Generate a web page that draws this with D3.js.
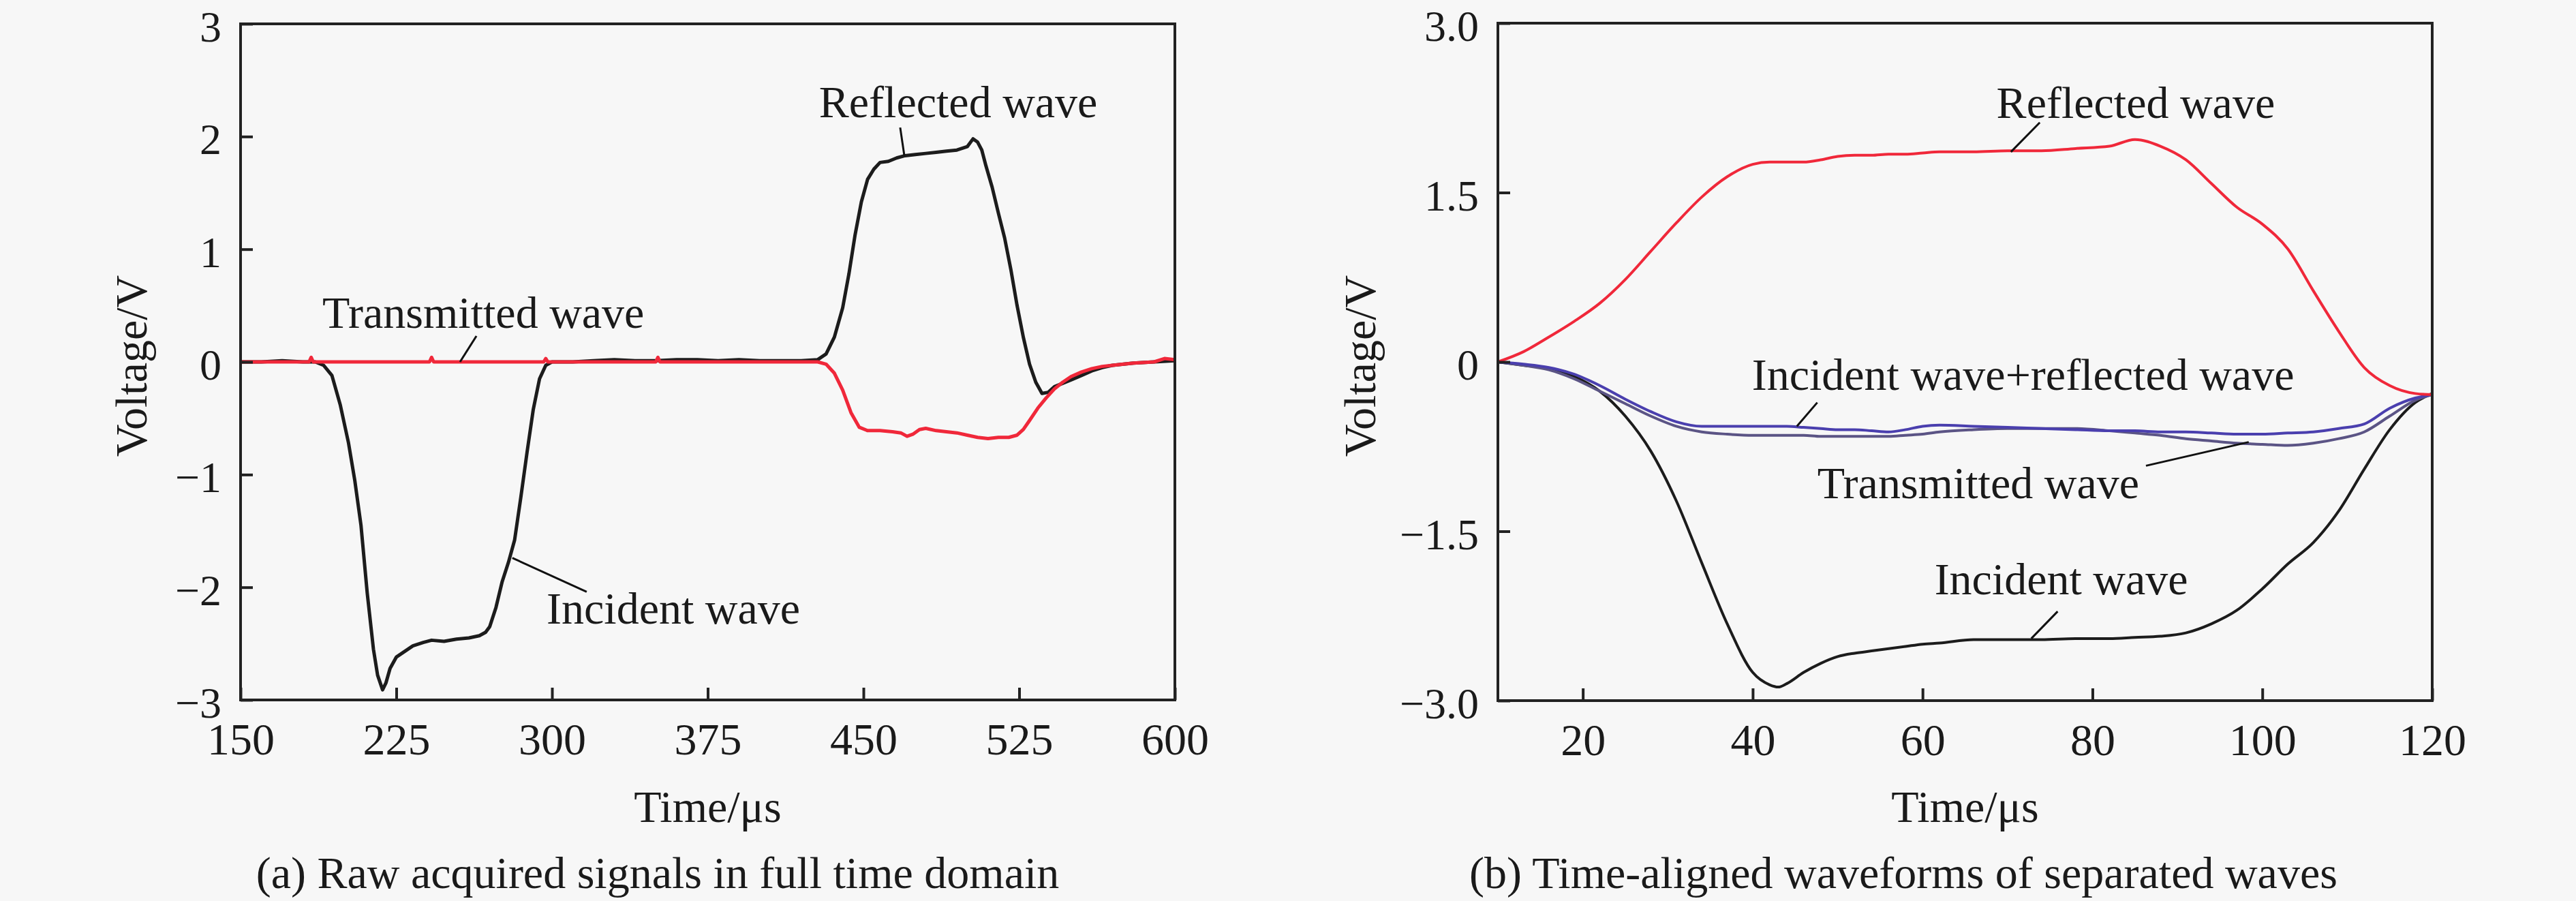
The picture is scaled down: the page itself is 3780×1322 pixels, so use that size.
<!DOCTYPE html>
<html>
<head>
<meta charset="utf-8">
<script src="https://cdn.jsdelivr.net/npm/d3@7"></script>
<style>
  body { margin: 0; background: #f7f7f7; }
  svg text { font-family: "Liberation Serif", "Times New Roman", serif; fill: #1a1a1a; }
</style>
</head>
<body>
<svg id="chart" width="3780" height="1322"></svg>
<script>
// ---- panel (a): raw signals, full time domain ----
var rawTimeBar1 = [150,160,170,180,186,190,194,198,202,205,208,211,214,216,218.4,220,222,225,229,233,238,242,248,254,260,265,268,270,273,276,279,282,285,288,291,294,297,300,310,320,330,340,350,360,370,380,390,400,410,420,428,432,436,440,443,446,449,452,455,458,462,466,470,475,480,485,490,495,500,502.8,505,507,509,512,515,518,521,524,527,530,533,536,539,542,546,550,555,560,565,570,580,590,600];
var rawVoltBar1 = [0,0,0.01,0,0,-0.03,-0.12,-0.38,-0.72,-1.05,-1.45,-2.05,-2.55,-2.78,-2.91,-2.85,-2.72,-2.62,-2.57,-2.52,-2.49,-2.47,-2.48,-2.46,-2.45,-2.43,-2.40,-2.35,-2.18,-1.95,-1.78,-1.58,-1.20,-0.80,-0.42,-0.15,-0.03,0,0,0.01,0.02,0.01,0.01,0.02,0.02,0.01,0.02,0.01,0.01,0.01,0.02,0.07,0.22,0.48,0.78,1.13,1.42,1.62,1.71,1.77,1.78,1.81,1.83,1.84,1.85,1.86,1.87,1.88,1.91,1.98,1.95,1.88,1.74,1.55,1.32,1.10,0.82,0.50,0.22,-0.02,-0.18,-0.28,-0.27,-0.22,-0.19,-0.16,-0.12,-0.08,-0.05,-0.03,-0.01,0,0.01];

var rawTimeBar2 = [150,170,183,184,185,200,220,241,242,243,260,280,296,297,298,320,350,351,352,380,400,415,428,432,436,440,444,448,452,458,464,468,471,474,477,480,485,490,495,500,505,510,515,520,524,527,530,534,538,542,546,550,555,560,565,570,580,590,595,600];
var rawVoltBar2 = [0,0,0,0.04,0,0,0,0,0.04,0,0,0,0,0.03,0,0,0,0.04,0,0,0,0,0,-0.02,-0.10,-0.25,-0.45,-0.58,-0.61,-0.61,-0.62,-0.63,-0.66,-0.64,-0.60,-0.59,-0.61,-0.62,-0.63,-0.65,-0.67,-0.68,-0.67,-0.67,-0.65,-0.60,-0.52,-0.41,-0.32,-0.24,-0.18,-0.13,-0.09,-0.06,-0.04,-0.03,-0.01,0,0.03,0.02];

var xTicksA = [150,225,300,375,450,525,600];
var yTicksA = [-3,-2,-1,0,1,2,3];

// ---- panel (b): time-aligned separated waves ----
var alignedTime = [10,13,16,19,22,25,28,31,34,37,40,42,43,44,46,48,50,52,54,56,58,60,62,66,70,74,78,82,85,88,91,94,97,100,103,106,109,112,115,118,120];
var reflectedWave = [0,0.09,0.22,0.36,0.52,0.73,0.98,1.23,1.46,1.64,1.75,1.77,1.77,1.77,1.77,1.79,1.82,1.83,1.83,1.84,1.84,1.85,1.86,1.86,1.87,1.87,1.89,1.91,1.97,1.91,1.79,1.58,1.37,1.22,1.00,0.63,0.27,-0.05,-0.21,-0.28,-0.29];
var incidentWave = [0,-0.03,-0.06,-0.13,-0.26,-0.48,-0.79,-1.23,-1.78,-2.32,-2.75,-2.86,-2.88,-2.85,-2.75,-2.67,-2.61,-2.58,-2.56,-2.54,-2.52,-2.50,-2.49,-2.46,-2.46,-2.46,-2.45,-2.45,-2.44,-2.43,-2.40,-2.32,-2.20,-2.01,-1.79,-1.60,-1.32,-0.95,-0.60,-0.36,-0.28];
var transmittedWave = [0,-0.03,-0.07,-0.15,-0.26,-0.37,-0.48,-0.57,-0.62,-0.64,-0.65,-0.65,-0.65,-0.65,-0.65,-0.66,-0.66,-0.66,-0.66,-0.66,-0.65,-0.64,-0.62,-0.60,-0.59,-0.59,-0.59,-0.61,-0.63,-0.65,-0.68,-0.70,-0.72,-0.73,-0.74,-0.72,-0.68,-0.62,-0.48,-0.34,-0.29];
var incPlusRefWave = [0,-0.02,-0.05,-0.11,-0.21,-0.33,-0.44,-0.53,-0.57,-0.57,-0.57,-0.57,-0.57,-0.57,-0.58,-0.59,-0.60,-0.60,-0.61,-0.62,-0.60,-0.57,-0.56,-0.57,-0.58,-0.59,-0.60,-0.61,-0.61,-0.62,-0.62,-0.63,-0.64,-0.64,-0.63,-0.62,-0.59,-0.55,-0.41,-0.32,-0.29];

var xTicksB = [20,40,60,80,100,120];
var yTicksB = [-3,-1.5,0,1.5,3];

// annotation labels: text anchor and leader line in data units
var labelsA = [
  { text: 'Reflected wave',   tx: 428.6, ty: 2.17,  from: [467.7, 2.08],  to: [469.7, 1.83] },
  { text: 'Transmitted wave', tx: 189.4, ty: 0.30,  from: [263.6, 0.23],  to: [255.7, 0.0] },
  { text: 'Incident wave',    tx: 297.4, ty: -2.32, from: [316.7, -2.04], to: [280.9, -1.74] }
];
var labelsB = [
  { text: 'Reflected wave',               tx: 68.7, ty: 2.16,  from: [73.8, 2.12],  to: [70.4, 1.86] },
  { text: 'Incident wave+reflected wave', tx: 39.9, ty: -0.25, from: [47.6, -0.36], to: [45.2, -0.57] },
  { text: 'Transmitted wave',             tx: 47.6, ty: -1.21, from: [86.3, -0.92], to: [98.4, -0.71] },
  { text: 'Incident wave',                tx: 61.4, ty: -2.06, from: [75.9, -2.21], to: [72.8, -2.45] }
];

function zip(t, v) { return t.map(function(d, i) { return [d, v[i]]; }); }

var svg = d3.select('#chart');
svg.append('rect').attr('width', 3780).attr('height', 1322).attr('fill', '#f7f7f7');

function drawPanel(p) {
  var x = d3.scaleLinear().domain(p.xDomain).range([p.left, p.right]);
  var y = d3.scaleLinear().domain([-3, 3]).range([p.bottom, p.top]);
  var g = svg.append('g');

  // lines
  var line = d3.line()
    .x(function(d) { return x(d[0]); })
    .y(function(d) { return y(d[1]); })
    .curve(p.curve);
  p.series.forEach(function(s) {
    g.append('path')
      .datum(s.points)
      .attr('d', line)
      .attr('fill', 'none')
      .attr('stroke', s.color)
      .attr('stroke-width', s.width)
      .attr('stroke-linejoin', 'round');
  });

  // frame
  g.append('rect')
    .attr('x', p.left).attr('y', p.top)
    .attr('width', p.right - p.left).attr('height', p.bottom - p.top)
    .attr('fill', 'none').attr('stroke', '#222').attr('stroke-width', 4);

  // axes, ticks pointing inward
  var gx = g.append('g').attr('transform', 'translate(0,' + p.bottom + ')')
    .call(d3.axisBottom(x).tickValues(p.xTicks).tickSizeInner(-18).tickSizeOuter(0));
  gx.select('.domain').remove();
  gx.selectAll('.tick line').attr('stroke', '#222').attr('stroke-width', 4);
  gx.selectAll('.tick text').attr('y', 80).attr('dy', 0).attr('font-size', 66);

  var gy = g.append('g').attr('transform', 'translate(' + p.left + ',0)')
    .call(d3.axisLeft(y).tickValues(p.yTicks).tickFormat(p.yFormat)
      .tickSizeInner(-18).tickSizeOuter(0).tickPadding(28));
  gy.select('.domain').remove();
  gy.selectAll('.tick line').attr('stroke', '#222').attr('stroke-width', 4);
  gy.selectAll('.tick text').attr('font-size', 64).attr('dy', '0.4em');

  // titles
  g.append('text')
    .attr('x', (p.left + p.right) / 2).attr('y', 1206)
    .attr('text-anchor', 'middle').attr('font-size', 66)
    .text('Time/\u03bcs');
  g.append('text')
    .attr('transform', 'translate(' + p.yTitleX + ',' + ((p.top + p.bottom) / 2 + 6) + ') rotate(-90)')
    .attr('text-anchor', 'middle').attr('font-size', 66)
    .text('Voltage/V');
  g.append('text')
    .attr('x', p.captionX).attr('y', 1303)
    .attr('text-anchor', 'middle').attr('font-size', 66)
    .text(p.caption);

  // annotations
  p.labels.forEach(function(a) {
    g.append('line')
      .attr('x1', x(a.from[0])).attr('y1', y(a.from[1]))
      .attr('x2', x(a.to[0])).attr('y2', y(a.to[1]))
      .attr('stroke', '#111').attr('stroke-width', 3);
    g.append('text')
      .attr('x', x(a.tx)).attr('y', y(a.ty))
      .attr('font-size', 66)
      .text(a.text);
  });
}

drawPanel({
  left: 353, right: 1724, top: 35, bottom: 1027,
  xDomain: [150, 600], xTicks: xTicksA, yTicks: yTicksA,
  yFormat: d3.format('d'),
  yTitleX: 215, captionX: 965,
  caption: '(a) Raw acquired signals in full time domain',
  curve: d3.curveLinear,
  series: [
    { points: zip(rawTimeBar1, rawVoltBar1), color: '#1c1c1c', width: 5 },
    { points: zip(rawTimeBar2, rawVoltBar2), color: '#f0283a', width: 5 }
  ],
  labels: labelsA
});

drawPanel({
  left: 2198, right: 3569, top: 34, bottom: 1028,
  xDomain: [10, 120], xTicks: xTicksB, yTicks: yTicksB,
  yFormat: function(v) { return v === 0 ? '0' : d3.format('.1f')(v); },
  yTitleX: 2018, captionX: 2793,
  caption: '(b) Time-aligned waveforms of separated waves',
  curve: d3.curveMonotoneX,
  series: [
    { points: zip(alignedTime, incidentWave),    color: '#1c1c1c', width: 4 },
    { points: zip(alignedTime, transmittedWave), color: '#5b5485', width: 4 },
    { points: zip(alignedTime, incPlusRefWave),  color: '#4a3fae', width: 4 },
    { points: zip(alignedTime, reflectedWave),   color: '#f0283a', width: 4 }
  ],
  labels: labelsB
});
</script>
</body>
</html>
